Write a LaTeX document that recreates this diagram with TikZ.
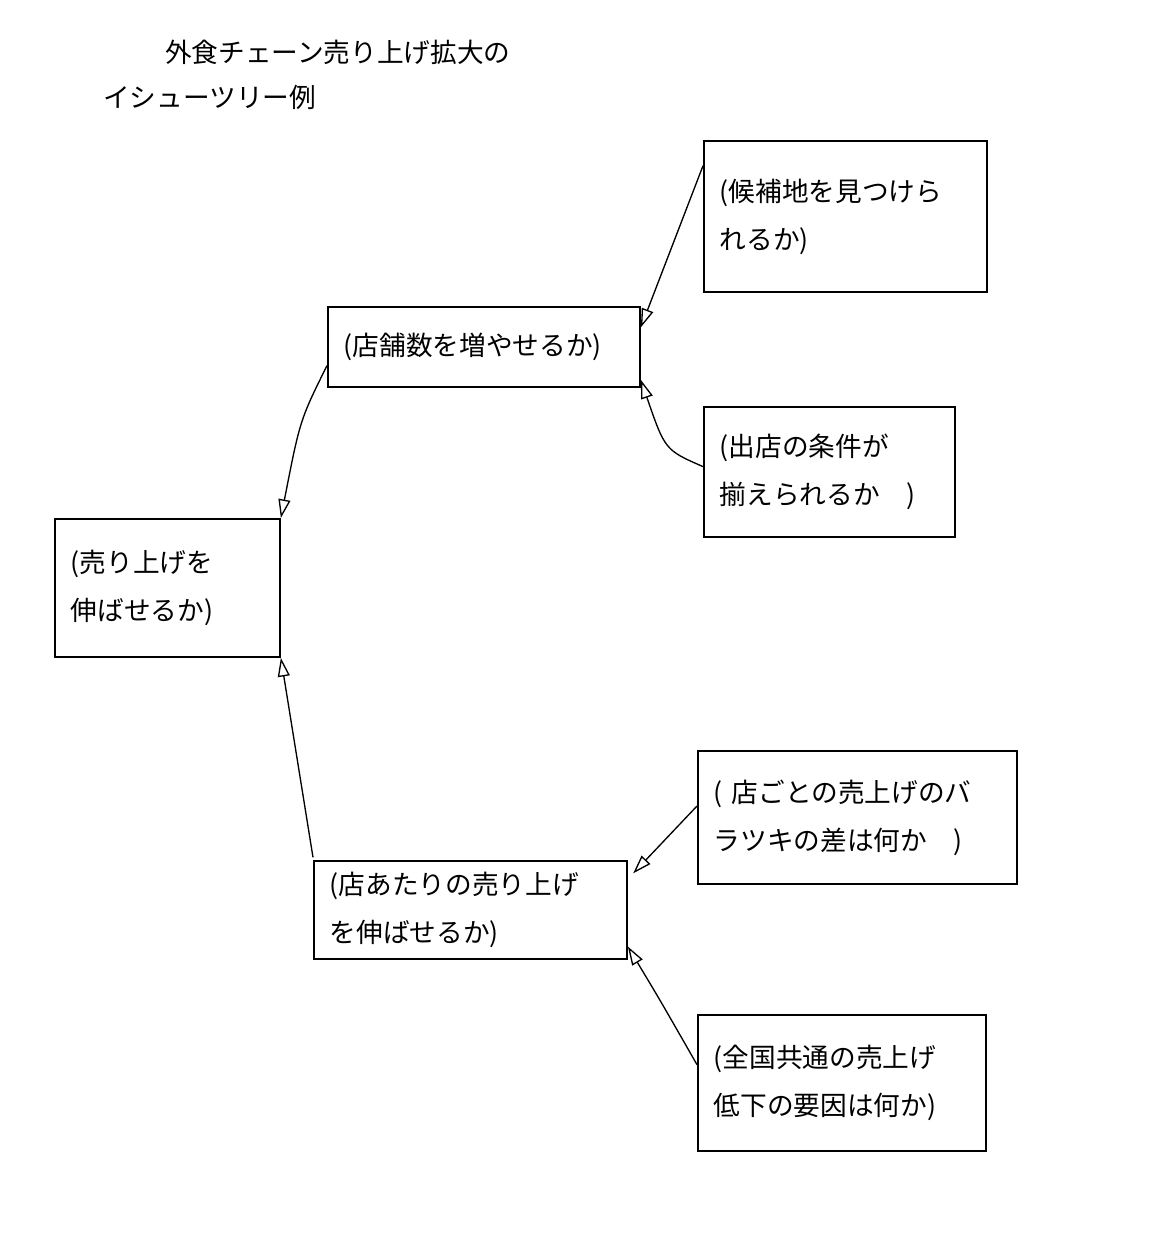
\documentclass[tikz,border=0pt]{standalone}
\usepackage{fontspec}
\setmainfont{Noto Sans CJK JP}
\usetikzlibrary{arrows.meta}
\begin{document}
\begin{tikzpicture}[x=0.75pt,y=-0.75pt,
  box/.style={draw,line width=1.4pt,anchor=north west,align=left,inner xsep=0pt,inner ysep=0pt,font=\fontsize{20}{36}\selectfont},
  ttl/.style={anchor=north west,inner sep=0pt,font=\fontsize{20}{36}\selectfont},
  arr/.style={line width=1pt,-{Triangle[open,length=14pt,width=9pt]}}]
\useasboundingbox (0,0) rectangle (1152,1240);
\tikzset{bx/.code args={#1,#2}{\pgfkeysalso{minimum width=#1*0.75pt,minimum height=#2*0.75pt,text width=#1*0.75pt-24pt}}}
\node[ttl] (t1) at (165,40) {外食チェーン売り上げ拡大の};
\node[ttl] (t2) at (103,85) {イシューツリー例};
\node[box,bx={225,138}] (root) at (54,518) {(売り上げを\\伸ばせるか)};
\node[box,bx={312,80},inner xsep=2pt] (A) at (327,306) {(店舗数を増やせるか)};
\node[box,bx={313,98}] (B) at (313,860) {(店あたりの売り上げ\\を伸ばせるか)};
\node[box,bx={283,151}] (A1) at (703,140) {(候補地を見つけら\\れるか)};
\node[box,bx={251,130}] (A2) at (703,406) {(出店の条件が\\揃えられるか　)};
\node[box,bx={319,133}] (B1) at (697,750) {( 店ごとの売上げのバ\\ラツキの差は何か　)};
\node[box,bx={288,136}] (B2) at (697,1014) {(全国共通の売上げ\\低下の要因は何か)};
\draw[arr] ([yshift=-14pt]A.west) .. controls (300,420) .. (root.north east);
\draw[arr] ([yshift=2pt]B.north west) -- (root.south east);
\draw[arr] ([yshift=38pt]A1.west) -- ([yshift=-16pt]A.north east);
\draw[arr] ([yshift=4pt]A2.west) .. controls (665,450) .. ([yshift=6pt]A.south east);
\draw[arr] ([yshift=-42pt]B1.north west) -- ([xshift=4pt,yshift=-10pt]B.north east);
\draw[arr] ([yshift=-38pt]B2.north west) .. controls (660,1000) .. ([yshift=10pt]B.south east);
\end{tikzpicture}
\end{document}
